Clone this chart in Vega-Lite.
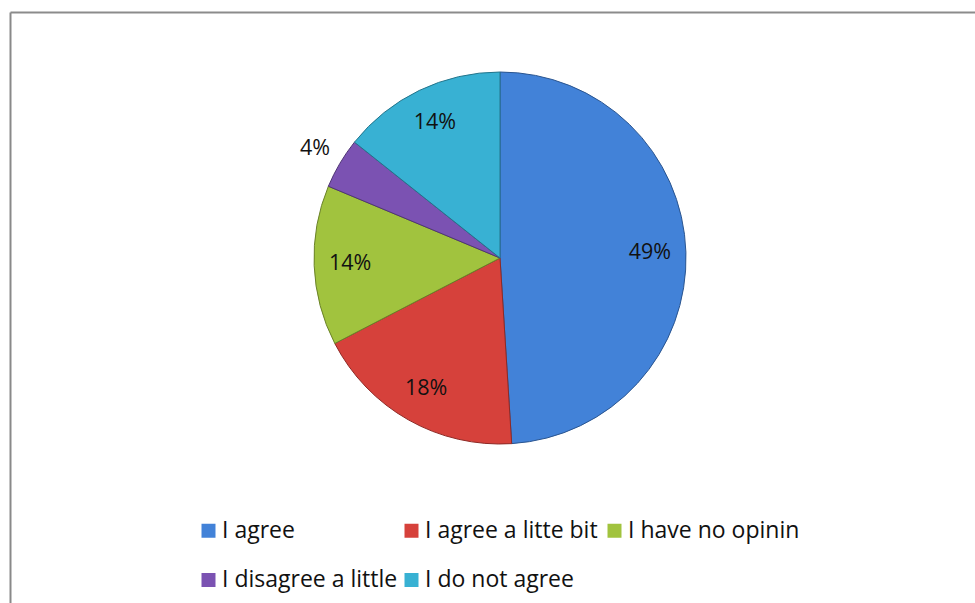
{
  "$schema": "https://vega.github.io/schema/vega-lite/v6.json",
  "autosize": {"type": "fit", "contains": "padding"},
  "width": 975,
  "height": 603,
  "padding": {"left": 10, "top": 12, "right": 0, "bottom": 0},
  "background": "white",
  "config": {
    "view": {"stroke": "transparent", "fill": null},
    "style": {"cell": {"stroke": "transparent"}},
    "font": "Open Sans",
    "axis": {"domainColor": "#8a8a8a", "domainWidth": 2, "ticks": false, "labels": false, "grid": false, "title": null}
  },
  "data": {
    "values": [
      {"answer": "I agree", "share": 0.490, "idx": 1},
      {"answer": "I agree a litte bit", "share": 0.184, "idx": 2},
      {"answer": "I have no opinin", "share": 0.139, "idx": 3},
      {"answer": "I disagree a little", "share": 0.044, "idx": 4},
      {"answer": "I do not agree", "share": 0.143, "idx": 5}
    ]
  },
  "encoding": {
    "x": {"datum": 0.5, "type": "quantitative", "scale": {"domain": [0, 1]}, "axis": {"orient": "top", "domainColor": "#8b8b8b"}},
    "y": {"datum": 0.5, "type": "quantitative", "scale": {"domain": [0, 1]}, "axis": {"orient": "left", "domainColor": "#898989"}},
    "theta": {"field": "share", "type": "quantitative", "stack": true},
    "order": {"field": "idx", "type": "quantitative"}
  },
  "layer": [
    {
      "mark": {"type": "arc", "radius": 186, "xOffset": 7.5, "yOffset": -49.5, "strokeWidth": 1},
      "encoding": {
        "color": {
          "field": "answer", "type": "nominal", "sort": null,
          "scale": {"range": ["#4282d8", "#d6413b", "#a1c33e", "#7b52b2", "#38b1d3"]},
          "legend": {
            "orient": "none", "legendX": 187, "legendY": 507, "direction": "horizontal",
            "title": null, "columns": 3, "gridAlign": "all",
            "symbolType": "square", "symbolSize": 196, "symbolStrokeWidth": 0,
            "labelFont": "Open Sans", "labelFontSize": 23, "labelColor": "#111111",
            "labelLimit": 400, "labelOffset": 2, "columnPadding": 2, "rowPadding": 25.5
          }
        },
        "stroke": {
          "field": "answer", "type": "nominal", "sort": null,
          "scale": {"range": ["#2a5590", "#8e2a26", "#6a8228", "#4f3475", "#23758c"]},
          "legend": null
        }
      }
    },
    {
      "mark": {"type": "text", "radius": 150, "xOffset": 7.5, "yOffset": -49.5, "font": "Open Sans", "fontSize": 21.5, "fill": "#111111"},
      "encoding": {
        "text": {"field": "share", "type": "quantitative", "format": ".0%"},
        "opacity": {"condition": {"test": "datum.share < 0.05", "value": 0}, "value": 1}
      }
    },
    {
      "mark": {"type": "text", "radius": 215, "xOffset": 7.5, "yOffset": -49.5, "font": "Open Sans", "fontSize": 21.5, "fill": "#111111"},
      "encoding": {
        "text": {"field": "share", "type": "quantitative", "format": ".0%"},
        "opacity": {"condition": {"test": "datum.share < 0.05", "value": 1}, "value": 0}
      }
    }
  ]
}
